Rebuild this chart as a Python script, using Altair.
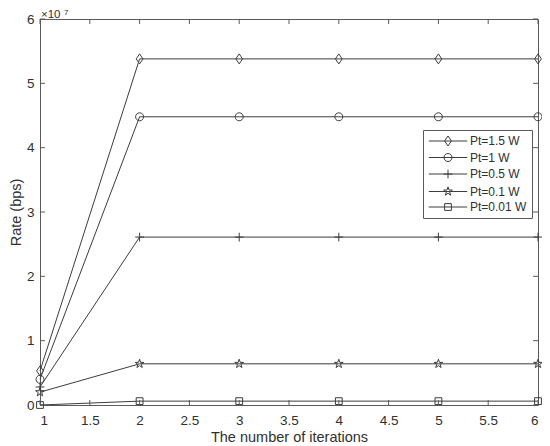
import math
import altair as alt
import pandas as pd

# ---- data ----
iterations = [1, 2, 3, 4, 5, 6]
series_names = ["Pt=1.5 W", "Pt=1 W", "Pt=0.5 W", "Pt=0.1 W", "Pt=0.01 W"]
rate_15 = [0.53e7, 5.38e7, 5.38e7, 5.38e7, 5.38e7, 5.38e7]
rate_1 = [0.40e7, 4.48e7, 4.48e7, 4.48e7, 4.48e7, 4.48e7]
rate_05 = [0.28e7, 2.61e7, 2.61e7, 2.61e7, 2.61e7, 2.61e7]
rate_01 = [0.20e7, 0.64e7, 0.64e7, 0.64e7, 0.64e7, 0.64e7]
rate_001 = [0.0, 0.06e7, 0.06e7, 0.06e7, 0.06e7, 0.06e7]
x_ticks = [1, 1.5, 2, 2.5, 3, 3.5, 4, 4.5, 5, 5.5, 6]
y_ticks = [0, 1e7, 2e7, 3e7, 4e7, 5e7, 6e7]

all_rates = [rate_15, rate_1, rate_05, rate_01, rate_001]
rows = []
for name, vals in zip(series_names, all_rates):
    for xi, v in zip(iterations, vals):
        rows.append({"Series": name, "x": xi, "y": v})
df = pd.DataFrame(rows)
xt = pd.DataFrame({"v": x_ticks})
yt = pd.DataFrame({"v": y_ticks})

# ---- style ----
W, H = 498, 386
FONT = "Liberation Sans"
LINE = "#3c3c3c"
AX = "#5a5a5a"
TXT = "#303030"

def star_path(ro=1.15, ri=0.45):
    pts = []
    for k in range(10):
        r = ro if k % 2 == 0 else ri
        a = -math.pi / 2 + k * math.pi / 5
        pts.append((r * math.cos(a), r * math.sin(a)))
    return "M" + "L".join(f"{px:.3f},{py:.3f}" for px, py in pts) + "Z"

marker_paths = [
    "M0,-1.25L0.85,0L0,1.25L-0.85,0Z",
    "M1,0A1,1,0,1,1,-1,0A1,1,0,1,1,1,0Z",
    "M0,-1.1V1.1M-1.1,0H1.1",
    star_path(),
    "M-0.85,-0.85H0.85V0.85H-0.85Z",
]
legend_paths = ["M-4.8,0H4.8" + p for p in marker_paths]

xs = alt.Scale(domain=[1, 6], nice=False, zero=False)
ys = alt.Scale(domain=[0, 6e7], nice=False)

x_enc = alt.X("x:Q", scale=xs, axis=alt.Axis(
    values=x_ticks, format="~g", title="The number of iterations",
    ticks=False, domain=False, grid=False, labelPadding=8, titlePadding=4,
    labelFont=FONT, labelFontSize=13.5, labelColor=TXT,
    titleFont=FONT, titleFontSize=14.5, titleColor=TXT, titleFontWeight="normal"))
y_enc = alt.Y("y:Q", scale=ys, axis=alt.Axis(
    values=y_ticks, labelExpr="datum.value/1e7", title="Rate (bps)",
    ticks=False, domain=False, grid=False, labelPadding=6, titlePadding=3,
    labelFont=FONT, labelFontSize=13.5, labelColor=TXT,
    titleFont=FONT, titleFontSize=14.5, titleColor=TXT, titleFontWeight="normal"))

base = alt.Chart(df)

lines = base.mark_line(color=LINE, strokeWidth=1).encode(
    x=x_enc, y=y_enc, detail="Series:N")

markers = base.mark_point(filled=False, stroke=LINE, strokeWidth=1, size=64, opacity=1).encode(
    x="x:Q", y="y:Q",
    shape=alt.Shape("Series:N", scale=alt.Scale(domain=series_names, range=marker_paths), legend=None))

legend_layer = base.mark_point(filled=False, stroke=LINE, strokeWidth=1, size=64, opacity=0).encode(
    x="x:Q", y="y:Q",
    shape=alt.Shape("Series:N", scale=alt.Scale(domain=series_names, range=legend_paths),
                    legend=alt.Legend(
                        title=None, orient="none", legendX=383, legendY=111,
                        strokeColor=AX, fillColor="white", padding=5,
                        symbolSize=64, symbolStrokeWidth=1, symbolStrokeColor=LINE,
                        symbolFillColor="transparent", symbolOpacity=1,
                        symbolOffset=14, labelOffset=16, rowPadding=3.5,
                        labelFont=FONT, labelFontSize=12, labelColor=TXT)))

tick_style = dict(color=AX, strokeWidth=1)
xt_bottom = alt.Chart(xt).mark_rule(**tick_style).encode(
    x=alt.X("v:Q", scale=xs), y=alt.value(H), y2=alt.value(H - 5))
xt_top = alt.Chart(xt).mark_rule(**tick_style).encode(
    x=alt.X("v:Q", scale=xs), y=alt.value(0), y2=alt.value(5))
yt_left = alt.Chart(yt).mark_rule(**tick_style).encode(
    y=alt.Y("v:Q", scale=ys), x=alt.value(0), x2=alt.value(5))
yt_right = alt.Chart(yt).mark_rule(**tick_style).encode(
    y=alt.Y("v:Q", scale=ys), x=alt.value(W), x2=alt.value(W - 5))

exp_base = alt.Chart(pd.DataFrame({"t": ["×10"]})).mark_text(
    font=FONT, fontSize=11.5, color=TXT, align="left", baseline="alphabetic").encode(
    text="t:N", x=alt.value(1), y=alt.value(-1))
exp_sup = alt.Chart(pd.DataFrame({"t": ["7"]})).mark_text(
    font=FONT, fontSize=8, color=TXT, align="left", baseline="alphabetic").encode(
    text="t:N", x=alt.value(24), y=alt.value(-4))

chart = alt.layer(
    lines, markers, legend_layer, xt_bottom, xt_top, yt_left, yt_right, exp_base, exp_sup
).resolve_scale(shape="independent").properties(
    width=W, height=H,
    autosize=alt.AutoSizeParams(type="none"),
    padding={"left": 32, "top": 11, "right": 4, "bottom": 40},
).configure_view(stroke=AX, strokeWidth=1)

chart.save("out.html", embed_options={"renderer": "svg", "actions": False})
